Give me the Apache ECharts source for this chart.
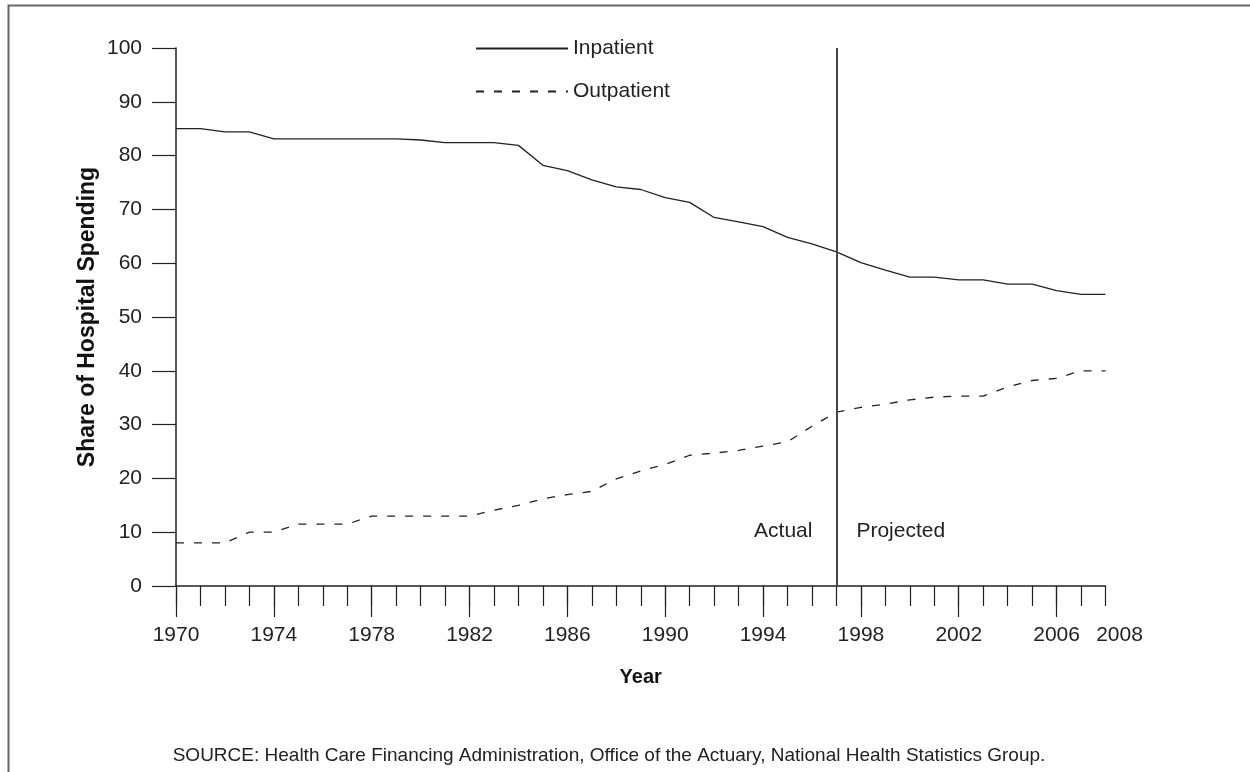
<!DOCTYPE html>
<html>
<head>
<meta charset="utf-8">
<script src="https://cdn.jsdelivr.net/npm/echarts@6/dist/echarts.min.js"></script>
<style>
html,body{margin:0;padding:0;background:#fff;}
#chart{width:1250px;height:772px;}
</style>
</head>
<body>
<div id="chart"></div>
<script>
const years = [1970,1971,1972,1973,1974,1975,1976,1977,1978,1979,1980,1981,1982,1983,1984,1985,1986,1987,1988,1989,1990,1991,1992,1993,1994,1995,1996,1997,1998,1999,2000,2001,2002,2003,2004,2005,2006,2007,2008];
const inpatient = [85,85,84.4,84.4,83.1,83.1,83.1,83.1,83.1,83.1,82.9,82.4,82.4,82.4,81.9,78.2,77.2,75.5,74.2,73.7,72.2,71.3,68.5,67.7,66.8,64.8,63.6,62.1,60.1,58.7,57.4,57.4,56.9,56.9,56.1,56.1,54.9,54.2,54.2];
const outpatient = [8,8,8,10,10,11.5,11.5,11.5,13,13,13,13,13,14.1,15,16.2,17,17.6,19.9,21.4,22.6,24.3,24.7,25.2,26,26.8,29.7,32.3,33.2,33.8,34.6,35.1,35.3,35.3,37,38.2,38.6,40,40];
const xLabelYears = [1970,1974,1978,1982,1986,1990,1994,1998,2002,2006,2008];
const xMajorTicks = [1970,1974,1978,1982,1986,1990,1994,1998,2002,2006];
const dividerYear = 1997;
const annotationLevel = 10.2;
const seriesNames = ['Inpatient','Outpatient'];
const sourceNote = 'SOURCE: Health Care Financing Administration, Office of the Actuary, National Health Statistics Group.';

const FONT = 'Liberation Sans, Arial, Helvetica, sans-serif';
const chart = echarts.init(document.getElementById('chart'), null, {renderer:'canvas'});
const toPairs = arr => years.map((y,i)=>[y,arr[i]]);
const lastYear = years[years.length-1];

chart.setOption({
  animation:false,
  backgroundColor:'#fff',
  textStyle:{fontFamily:FONT},
  grid:{left:176,right:144.5,top:48,bottom:186,containLabel:false},
  legend:{
    orient:'vertical',left:470,top:33,itemWidth:92,itemHeight:14,itemGap:22,
    itemStyle:{color:'transparent',borderWidth:0,opacity:0},
    textStyle:{fontSize:21,color:'#222',fontFamily:FONT},
    data:seriesNames
  },
  xAxis:[{
    type:'value',min:1970,max:2008,interval:1,
    name:'Year',nameLocation:'middle',nameGap:81,nameMoveOverlap:false,
    nameTextStyle:{fontSize:20,fontWeight:'bold',color:'#111',fontFamily:FONT},
    axisLine:{show:true,lineStyle:{color:'#222',width:1.5}},
    axisTick:{show:true,inside:false,length:20,customValues:years,lineStyle:{color:'#222',width:1.2}},
    axisLabel:{show:true,margin:39,fontSize:21,color:'#222',fontFamily:FONT,customValues:xLabelYears,
      formatter:v=> v===lastYear ? '{e|'+v+'}' : String(v),
      rich:{e:{fontSize:21,color:'#222',fontFamily:FONT,padding:[0,0,0,28]}}
    },
    splitLine:{show:false}
  },{
    type:'value',min:1970,max:2008,position:'bottom',
    axisLine:{show:false},
    axisTick:{show:true,inside:false,length:31,customValues:xMajorTicks,lineStyle:{color:'#222',width:1.2}},
    axisLabel:{show:false},
    splitLine:{show:false}
  }],
  yAxis:{
    type:'value',min:0,max:100,interval:10,
    name:'Share of Hospital Spending',nameLocation:'middle',nameGap:77,nameRotate:90,nameMoveOverlap:false,
    nameTextStyle:{fontSize:23,fontWeight:'bold',color:'#111',fontFamily:FONT},
    axisLine:{show:true,lineStyle:{color:'#222',width:1.5}},
    axisTick:{show:true,inside:false,length:24,lineStyle:{color:'#222',width:1.2}},
    axisLabel:{margin:34,fontSize:21,color:'#222',fontFamily:FONT},
    splitLine:{show:false}
  },
  series:[{
    name:seriesNames[0],type:'line',xAxisIndex:0,symbol:'none',
    data:toPairs(inpatient),
    lineStyle:{color:'#222',width:1.3,type:'solid'},
    itemStyle:{color:'#222'},
    markLine:{
      silent:true,symbol:'none',
      label:{show:false},
      lineStyle:{color:'#444',width:2,type:'solid'},
      data:[{xAxis:dividerYear}]
    },
    markPoint:{
      silent:true,symbol:'circle',symbolSize:0,
      data:[
        {coord:[dividerYear,annotationLevel],label:{show:true,formatter:'Actual',position:'left',distance:24,fontSize:21,color:'#222',fontFamily:FONT}},
        {coord:[dividerYear,annotationLevel],label:{show:true,formatter:'Projected',position:'right',distance:20,fontSize:21,color:'#222',fontFamily:FONT}}
      ]
    }
  },{
    name:seriesNames[1],type:'line',xAxisIndex:0,symbol:'none',
    data:toPairs(outpatient),
    lineStyle:{color:'#222',width:1.3,type:[8,10]},
    itemStyle:{color:'#222'}
  }],
  graphic:[
    {type:'rect',left:6,top:3,silent:true,shape:{x:0,y:0,width:1300,height:800},style:{fill:'none',stroke:'#666',lineWidth:2}},
    {type:'text',x:609,y:756,silent:true,style:{text:sourceNote,font:'19px '+FONT,fill:'#222',align:'center',verticalAlign:'middle'}}
  ]
});
</script>
</body>
</html>
